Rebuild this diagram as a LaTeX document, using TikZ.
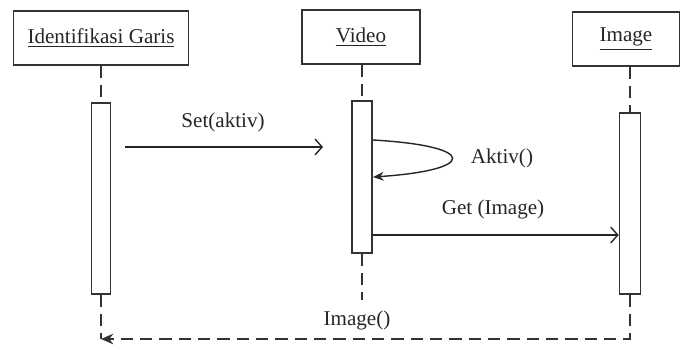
\documentclass[tikz,border=0pt]{standalone}
\usepackage{fontspec}
\setmainfont{Liberation Serif}
\usetikzlibrary{arrows.meta}

\begin{document}
\begin{tikzpicture}[x=0.02cm,y=-0.02cm,
    font=\fontsize{12}{14}\selectfont,text=black!85,
    obj/.style={draw=black!80,line width=0.9pt,minimum height=1.07cm,inner sep=0pt},
    act/.style={draw=black!80,line width=0.9pt,minimum width=0.38cm,inner sep=0pt},
    life/.style={draw=black!80,line width=0.9pt,dash pattern=on 7pt off 4pt},
    msg/.style={draw=black!85,line width=0.8pt,-{Straight Barb[length=4pt,width=9pt]}},
    selfmsg/.style={draw=black!85,line width=0.8pt,-{Stealth[length=6pt,width=5pt]}}]
    \useasboundingbox[fill=white] (0,0) rectangle (680,345);
    \node[obj,minimum width=3.5cm] (idg) at (101,38) {\underline{Identifikasi Garis}};
    \node[obj,minimum width=2.36cm] (vid) at (361,37) {\underline{Video}};
    \node[obj,minimum width=2.14cm] (img) at (626,39) {\underline{Image}};
    \node[act,minimum height=3.82cm] (a1) at (101,198.5) {};
    \node[act,minimum height=3.04cm,minimum width=0.4cm] (a2) at (362,177) {};
    \node[act,minimum height=3.62cm,minimum width=0.42cm] (a3) at (630,203.5) {};
    \coordinate (vidend) at (362,300);
    \coordinate (ret) at (101,339);
    \draw[life] (idg) -- (a1);
    \draw[life] (a2.north |- vid.south) -- (a2.north);
    \draw[life] (a3.north |- img.south) -- (a3.north);
    \draw[life] (a2.south) -- (vidend);
    \draw[life] (a1.south) -- (ret);
    \draw[life,-{Stealth[length=7pt,width=6pt]}] (a3.south) |- (ret);
    \coordinate (s1) at (125,147);
    \coordinate (s2) at (323,147);
    \draw[msg] (s1) -- (s2);
    \coordinate (lp1) at (373,140);
    \coordinate (lp2) at (373,177);
    \draw[selfmsg] (lp1) .. controls (478,146) and (478,170) .. (lp2);
    \coordinate (g) at (0,235);
    \draw[msg] (a2.east |- g) -- (a3.west |- g);
    \node (lset) at (223,122) {Set(aktiv)};
    \node (lakt) at (502,158) {Aktiv()};
    \node (lget) at (493,209) {Get (Image)};
    \node (lret) at (357,320) {Image()};
\end{tikzpicture}
\end{document}
